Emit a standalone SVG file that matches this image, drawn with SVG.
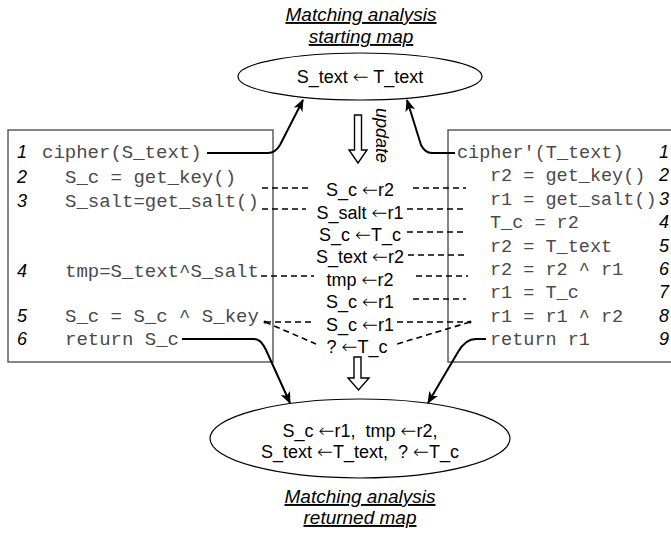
<svg xmlns="http://www.w3.org/2000/svg" width="671" height="533" viewBox="0 0 671 533">
  <style>
    .title { font-family: "Liberation Sans", Arial, sans-serif; font-size: 19px; font-style: italic; text-decoration: underline; text-anchor: middle; fill: #000; }
    .map { font-family: "Liberation Sans", Arial, sans-serif; font-size: 18px; text-anchor: middle; fill: #000; }
    .ar { font-family: "DejaVu Sans", sans-serif; font-size: 19px; font-weight: 200; }
    .code { font-family: "Liberation Mono", "Courier New", monospace; font-size: 18.5px; fill: #4a4a4a; }
    .codeL { font-size: 19px; }
    .num { font-family: "Liberation Sans", Arial, sans-serif; font-size: 18px; font-style: italic; fill: #000; }
    .box { fill: #fff; stroke: #444; stroke-width: 1.3; }
    .ell { fill: #fff; stroke: #000; stroke-width: 1.2; }
    .link { fill: none; stroke: #000; stroke-width: 2; }
    .dash { fill: none; stroke: #000; stroke-width: 1.6; stroke-dasharray: 6 4; }
    .hollow { fill: #fff; stroke: #000; stroke-width: 1.4; stroke-linejoin: miter; }
  </style>
  <defs>
    <marker id="head" viewBox="0 0 12 10" refX="11" refY="5" markerWidth="12" markerHeight="10" markerUnits="userSpaceOnUse" orient="auto">
      <path d="M0,0 L12,5 L0,10 L3,5 z" fill="#000"/>
    </marker>
  </defs>

  <!-- headings -->
  <g id="start-title">
    <text class="title" x="361" y="21">Matching analysis</text>
    <text class="title" x="361" y="43">starting map</text>
  </g>
  <g id="end-title">
    <text class="title" x="360" y="503">Matching analysis</text>
    <text class="title" x="360" y="524">returned map</text>
  </g>

  <!-- starting map -->
  <g id="start-map">
    <ellipse class="ell" cx="360" cy="76.5" rx="122" ry="23.5"/>
    <text class="map" x="360" y="83">S_text <tspan class="ar">←</tspan> T_text</text>
  </g>

  <!-- source program -->
  <g id="source">
    <rect class="box" x="8" y="130" width="265" height="232"/>
    <text class="num" x="17" y="158">1</text>
    <text class="num" x="17" y="183">2</text>
    <text class="num" x="17" y="207">3</text>
    <text class="num" x="17" y="277">4</text>
    <text class="num" x="17" y="322">5</text>
    <text class="num" x="17" y="345">6</text>
    <text class="code codeL" x="42" y="158">cipher(S_text)</text>
    <text class="code codeL" x="65" y="183">S_c = get_key()</text>
    <text class="code codeL" x="65" y="207">S_salt=get_salt()</text>
    <text class="code codeL" x="65" y="277">tmp=S_text^S_salt</text>
    <text class="code codeL" x="65" y="322">S_c = S_c ^ S_key</text>
    <text class="code codeL" x="65" y="345">return S_c</text>
  </g>

  <!-- target program -->
  <g id="target">
    <rect class="box" x="448" y="130" width="240" height="232"/>
    <text class="code" x="457" y="158">cipher'(T_text)</text>
    <text class="code" x="490" y="181.4">r2 = get_key()</text>
    <text class="code" x="490" y="204.8">r1 = get_salt()</text>
    <text class="code" x="490" y="228.2">T_c = r2</text>
    <text class="code" x="490" y="251.6">r2 = T_text</text>
    <text class="code" x="490" y="275">r2 = r2 ^ r1</text>
    <text class="code" x="490" y="298.4">r1 = T_c</text>
    <text class="code" x="490" y="321.8">r1 = r1 ^ r2</text>
    <text class="code" x="490" y="345.2">return r1</text>
    <text class="num" x="659" y="158">1</text>
    <text class="num" x="659" y="181.4">2</text>
    <text class="num" x="659" y="204.8">3</text>
    <text class="num" x="659" y="228.2">4</text>
    <text class="num" x="659" y="251.6">5</text>
    <text class="num" x="659" y="275">6</text>
    <text class="num" x="659" y="298.4">7</text>
    <text class="num" x="659" y="321.8">8</text>
    <text class="num" x="659" y="345.2">9</text>
  </g>

  <!-- update step -->
  <g id="update">
    <path class="hollow" d="M354.5,115 H361.5 V150 H367 L358,163 L349,150 H354.5 Z"/>
    <text class="num" font-size="17" transform="translate(376,108) rotate(90)">update</text>
  </g>

  <!-- variable correspondences -->
  <g id="pairs">
    <text class="map" x="360" y="196">S_c <tspan class="ar">←</tspan>r2</text>
    <text class="map" x="360" y="219">S_salt <tspan class="ar">←</tspan>r1</text>
    <text class="map" x="360" y="241">S_c <tspan class="ar">←</tspan>T_c</text>
    <text class="map" x="360" y="263">S_text <tspan class="ar">←</tspan>r2</text>
    <text class="map" x="360" y="286">tmp <tspan class="ar">←</tspan>r2</text>
    <text class="map" x="360" y="308">S_c <tspan class="ar">←</tspan>r1</text>
    <text class="map" x="360" y="331">S_c <tspan class="ar">←</tspan>r1</text>
    <text class="map" x="357" y="353">? <tspan class="ar">←</tspan>T_c</text>
  </g>

  <!-- return step -->
  <g id="return">
    <path class="hollow" d="M354,357 H361 V378 H369 L358.5,390 L348,378 H354 Z"/>
  </g>

  <!-- returned map -->
  <g id="end-map">
    <ellipse class="ell" cx="360" cy="438.5" rx="150" ry="39.5"/>
    <text class="map" x="360" y="437" xml:space="preserve">S_c <tspan class="ar">←</tspan>r1,  tmp <tspan class="ar">←</tspan>r2,</text>
    <text class="map" x="360" y="458" xml:space="preserve">S_text <tspan class="ar">←</tspan>T_text,  ? <tspan class="ar">←</tspan>T_c</text>
  </g>

  <!-- connectors -->
  <g id="connectors">
    <path class="link" d="M207,153 H268 C274,153 277,150 280,145 L303,100" marker-end="url(#head)"/>
    <path class="link" d="M455,153 H432 C426,153 423,149 421,145 L407,100" marker-end="url(#head)"/>
    <path class="link" d="M182,339 H254 C260,339 263,344 266,350 L290,403" marker-end="url(#head)"/>
    <path class="link" d="M486,339 H476 C468,339 462,345 458,352 L428,403" marker-end="url(#head)"/>

    <path class="dash" d="M262,188 H312 M413,188 H466"/>
    <path class="dash" d="M262,209 H306 M407,209 H466"/>
    <path class="dash" d="M407,232 H466"/>
    <path class="dash" d="M408,255 H466"/>
    <path class="dash" d="M261,276 H314 M416,276 H468"/>
    <path class="dash" d="M413,299 H466"/>
    <path class="dash" d="M265,322 H315 M397,322 H470"/>
    <path class="dash" d="M265,322 L316,344 M470,322 L397,344"/>
    <circle cx="265" cy="322" r="1.5" fill="#000"/>
    <circle cx="470" cy="322" r="1.5" fill="#000"/>
  </g>
</svg>
